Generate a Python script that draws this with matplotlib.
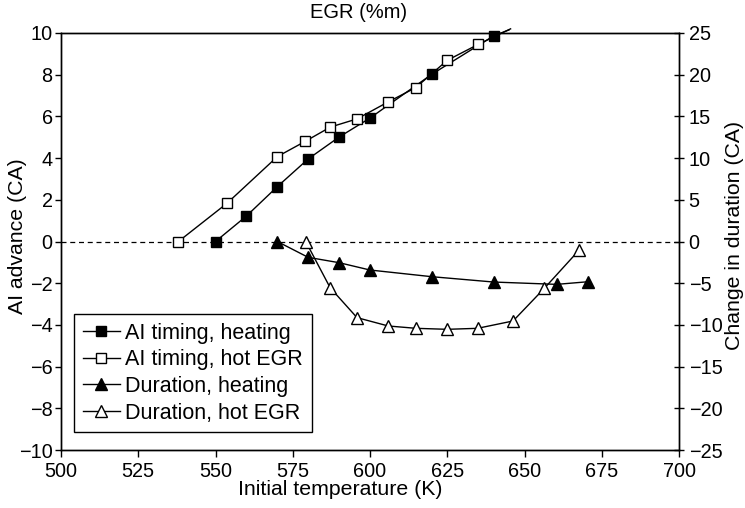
import matplotlib
matplotlib.use("Agg")
import matplotlib.pyplot as plt

plt.rcParams['font.family'] = ['Liberation Sans', 'DejaVu Sans']

# AI timing (left axis, CA); last point of each extends the line past the frame
ai_heat_T = [550, 560, 570, 580, 590, 600, 620, 640, 645]
ai_heat_v = [0.0, 1.22, 2.63, 3.96, 5.01, 5.92, 8.02, 9.86, 10.15]
ai_egr_T = [538, 553.7, 570, 579, 587.2, 595.8, 605.7, 614.8, 625, 635.1, 645.5]
ai_egr_v = [0.0, 1.83, 4.07, 4.8, 5.49, 5.88, 6.68, 7.38, 8.69, 9.46, 10.2]

# Change in duration (right axis, CA)
dur_heat_T = [570, 580, 590, 600, 620, 640, 660.4, 670.7]
dur_heat_v = [0.0, -1.9, -2.54, -3.42, -4.22, -4.86, -5.14, -4.82]
dur_egr_T = [579.2, 587.1, 595.8, 605.9, 614.9, 625, 634.8, 646.3, 656.4, 667.7]
dur_egr_v = [0.0, -5.54, -9.13, -10.13, -10.41, -10.53, -10.41, -9.53, -5.62, -1.02]

x_ticks = [500, 525, 550, 575, 600, 625, 650, 675, 700]
left_ticks = [-10, -8, -6, -4, -2, 0, 2, 4, 6, 8, 10]
right_ticks = [-25, -20, -15, -10, -5, 0, 5, 10, 15, 20, 25]

TICK_FS = 14.3
LABEL_FS = 15.3
LEGEND_FS = 15.5

fig = plt.figure(figsize=(7.45, 5.08), dpi=100)
ax = fig.add_axes([61/745, 1-450/508, 618/745, 417/508])
ax2 = ax.twinx()

ax.axhline(0, color='black', lw=0.9, ls=(0, (4, 3)), zorder=1)

lw = 1.0
h1, = ax.plot(ai_heat_T, ai_heat_v, '-s', color='black', mfc='black', mec='black',
              ms=7.0, lw=lw, markevery=list(range(len(ai_heat_T) - 1)), clip_on=False,
              label='AI timing, heating')
h2, = ax.plot(ai_egr_T, ai_egr_v, '-s', color='black', mfc='white', mec='black',
              ms=7.0, mew=1.0, lw=lw, markevery=list(range(len(ai_egr_T) - 1)), clip_on=False,
              label='AI timing, hot EGR')
h3, = ax2.plot(dur_heat_T, dur_heat_v, '-^', color='black', mfc='black', mec='black',
               ms=8.5, lw=lw, label='Duration, heating')
h4, = ax2.plot(dur_egr_T, dur_egr_v, '-^', color='black', mfc='white', mec='black',
               ms=8.5, mew=1.0, lw=lw, label='Duration, hot EGR')

ax.set_xlim(500, 700)
ax.set_ylim(-10, 10)
ax2.set_ylim(-25, 25)
ax.set_xticks(x_ticks)
ax.set_yticks(left_ticks)
ax2.set_yticks(right_ticks)
ax.set_xticklabels([str(t) for t in x_ticks], fontsize=TICK_FS)
ax.set_yticklabels([str(t).replace('-', '\u2212') for t in left_ticks], fontsize=TICK_FS)
ax2.set_yticklabels([str(t).replace('-', '\u2212') for t in right_ticks], fontsize=TICK_FS)

ax.tick_params(axis='x', direction='out', length=5, width=1, pad=3.5)
ax.tick_params(axis='y', direction='out', length=4.5, width=1, pad=1.5)
ax2.tick_params(axis='y', direction='inout', length=7, width=1, pad=3.5)

for a in (ax, ax2):
    for s in a.spines.values():
        s.set_linewidth(1.0)

ax.set_xlabel('Initial temperature (K)', fontsize=LABEL_FS)
ax.xaxis.set_label_coords((340.5 - 61) / 618, -(480 - 450) / 417)
ax.set_ylabel('AI advance (CA)', fontsize=LABEL_FS)
ax.yaxis.set_label_coords(-0.055, (450 - 236) / 417)
ax2.set_ylabel('Change in duration (CA)', fontsize=LABEL_FS)
ax2.yaxis.set_label_coords(1.074, (450 - 235) / 417)

fig.text(359 / 745, 1 - 13 / 508, 'EGR (%m)', fontsize=14.5, ha='center', va='center')

leg = ax2.legend(handles=[h1, h2, h3, h4], loc='upper left',
                 bbox_to_anchor=((74 - 61) / 618, (450 - 314) / 417), borderaxespad=0,
                 fancybox=False, edgecolor='black', framealpha=1,
                 handlelength=1.72, handletextpad=0.27, labelspacing=0.265,
                 borderpad=0.4, fontsize=LEGEND_FS)
leg.get_frame().set_linewidth(1.0)

fig.savefig('out.png', dpi=100)
